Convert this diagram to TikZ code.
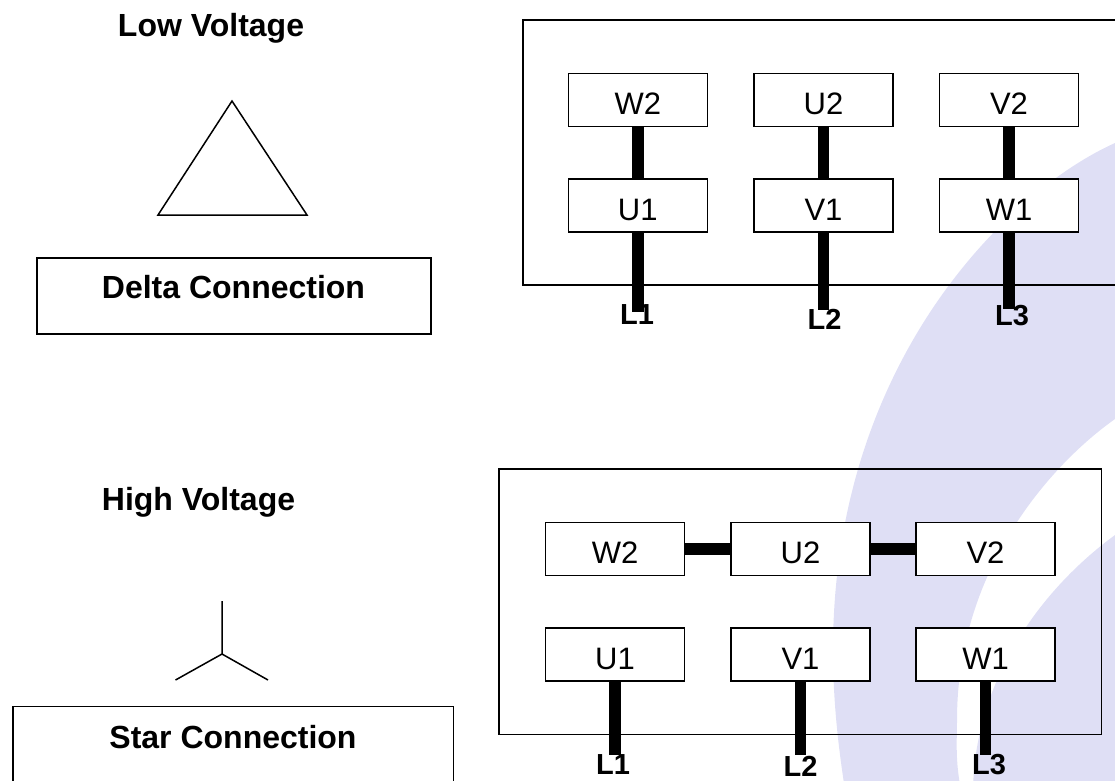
\documentclass[tikz,border=0pt]{standalone}
\usepackage{fontspec}
\setmainfont{Liberation Sans}
\definecolor{bandblue}{HTML}{DFDFF5}
\begin{document}
\begin{tikzpicture}[x=1pt,y=-1pt,
  line/.style={draw=black,line width=1.5pt},
  termbox/.style={draw=black,line width=1.5pt,fill=white,minimum width=139pt,minimum height=53pt,inner sep=0pt,font=\fontsize{31}{31}\selectfont,text height=29pt,text depth=0pt},
  wire/.style={draw=black,line width=11.5pt},
  heading/.style={anchor=base,inner sep=0pt,font=\fontsize{32}{32}\selectfont\bfseries},
  linelabel/.style={anchor=base,inner sep=0pt,font=\fontsize{29}{29}\selectfont\bfseries}]
\useasboundingbox (0,0) rectangle (1115,780);
\clip (0,0) rectangle (1115,780);
% background bands
\fill[bandblue] (1115,143) .. controls (1010,190) and (833,360) .. (833,650) .. controls (833,700) and (838,745) .. (845,790)
  -- (961,790) .. controls (955,760) and (957,740) .. (957,720) .. controls (957,570) and (1050,465) .. (1115,419) -- cycle;
\fill[bandblue] (1115,535) .. controls (1040,590) and (975,680) .. (973,790) -- (1115,790) -- cycle;
% headings and symbols
\node[heading] (lowv) at (211,36) {Low Voltage};
\node[heading] (highv) at (198.5,510) {High Voltage};
\draw[line] (232,101) -- (307,215) -- (158,215) -- cycle;
\draw[line] (222,601) -- (222,654) -- (175.5,680) (222,654) -- (268,680);
\draw[line] (37,258) rectangle (431,334);
\node[heading] (delta) at (233.5,298) {Delta Connection};
\draw[line] (13,706.5) rectangle (453.5,800);
\node[heading] (star) at (233,748) {Star Connection};
% top terminal block
\draw[line] (523,20) rectangle (1130,285);
\coordinate (tl1) at (637.75,312);
\coordinate (tl2) at (823.5,310);
\coordinate (tl3) at (1009,309);
\node[termbox] (tw2) at (637.75,100) {W2};
\node[termbox] (tu2) at (823.5,100) {U2};
\node[termbox] (tv2) at (1009,100) {V2};
\node[termbox] (tu1) at (637.75,205.5) {U1};
\node[termbox] (tv1) at (823.5,205.5) {V1};
\node[termbox] (tw1) at (1009,205.5) {W1};
\draw[wire] (tw2.south) -- (tu1.north);
\draw[wire] (tu2.south) -- (tv1.north);
\draw[wire] (tv2.south) -- (tw1.north);
\draw[wire] (tu1.south) -- (tl1);
\draw[wire] (tv1.south) -- (tl2);
\draw[wire] (tw1.south) -- (tl3);
\node[linelabel] (ta) at (637,324.5) {L1};
\node[linelabel] (tb) at (824.5,329) {L2};
\node[linelabel] (tc) at (1012,325) {L3};
% bottom terminal block
\draw[line] (499,469) rectangle (1101.5,734.5);
\coordinate (bl1) at (615,755);
\coordinate (bl2) at (800.5,755);
\coordinate (bl3) at (985.5,755);
\node[termbox] (bw2) at (615,549) {W2};
\node[termbox] (bu2) at (800.5,549) {U2};
\node[termbox] (bv2) at (985.5,549) {V2};
\node[termbox] (bu1) at (615,654.5) {U1};
\node[termbox] (bv1) at (800.5,654.5) {V1};
\node[termbox] (bw1) at (985.5,654.5) {W1};
\draw[wire] (bw2.east) -- (bu2.west);
\draw[wire] (bu2.east) -- (bv2.west);
\draw[wire] (bu1.south) -- (bl1);
\draw[wire] (bv1.south) -- (bl2);
\draw[wire] (bw1.south) -- (bl3);
\node[linelabel] (ba) at (613,774) {L1};
\node[linelabel] (bb) at (800.5,776.5) {L2};
\node[linelabel] (bc) at (989,774) {L3};
\end{tikzpicture}
\end{document}
